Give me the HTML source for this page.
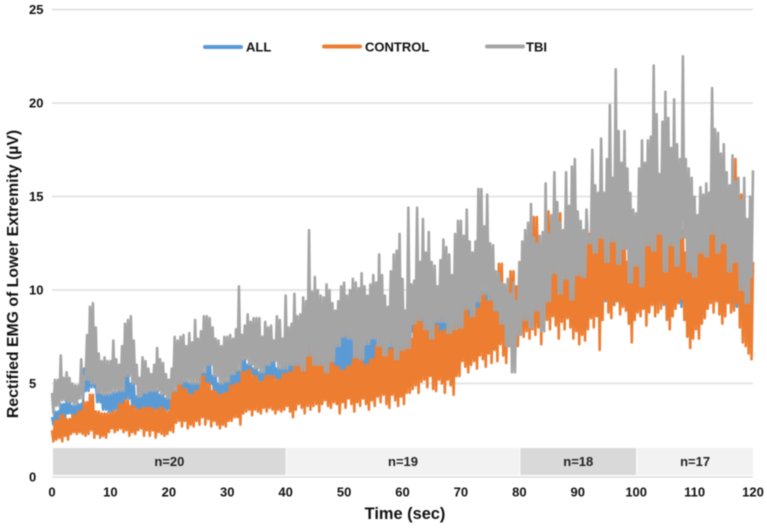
<!DOCTYPE html>
<html lang="en">
<head>
<meta charset="utf-8">
<title>Rectified EMG of Lower Extremity</title>
<style>
html,body{margin:0;padding:0;background:#fff;}
#chart{display:block;width:767px;height:528px;filter:blur(.4px);font-family:"Liberation Sans",sans-serif;font-weight:bold;}
</style>
</head>
<body>
<svg id="chart" xmlns="http://www.w3.org/2000/svg" width="767" height="528" viewBox="0 0 767 528">
  <g id="grid"></g>
  <g id="segments"></g>
  <g id="series"></g>
  <g id="yticks"></g>
  <g id="xticks"></g>
  <text x="405" y="519" text-anchor="middle" font-size="16.4" fill="#111">Time (sec)</text>
  <text transform="translate(18,274) rotate(-90)" text-anchor="middle" font-size="15.8" fill="#111">Rectified EMG of Lower Extremity (µV)</text>
  <g>
    <line x1="205" y1="47" x2="241" y2="47" stroke="#5b9bd5" stroke-width="4" stroke-linecap="round"/>
    <text x="246" y="51.5" font-size="13" fill="#111">ALL</text>
    <line x1="324" y1="46.5" x2="360" y2="46.5" stroke="#ed7d31" stroke-width="4" stroke-linecap="round"/>
    <text x="365" y="51.5" font-size="13" fill="#111">CONTROL</text>
    <line x1="487" y1="46.5" x2="523" y2="46.5" stroke="#a5a5a5" stroke-width="4" stroke-linecap="round"/>
    <text x="526" y="51.5" font-size="13" fill="#111">TBI</text>
  </g>
</svg>
<script>
var yTickLabels = [0, 5, 10, 15, 20, 25];
var xTickLabels = [0, 10, 20, 30, 40, 50, 60, 70, 80, 90, 100, 110, 120];
var segmentEdges = [0, 40, 80, 100, 120];
var segmentLabels = ['n=20', 'n=19', 'n=18', 'n=17'];

var tbiHigh = [
4.5,5.2,5.2,6.5,5.3,5.6,5.3,5.0,4.9,4.9,6.3,5.4,7.6,9.1,9.3,8.0,6.6,6.2,6.4,6.2,
6.2,7.3,6.3,6.0,7.0,8.2,8.4,8.6,7.3,6.0,5.3,6.4,6.2,5.8,5.5,6.0,6.9,6.3,6.1,5.5,
5.2,5.8,7.5,7.3,7.5,7.6,7.0,7.7,7.2,8.4,7.4,7.8,8.6,8.6,8.5,8.0,7.4,7.3,7.0,7.5,
7.5,7.6,7.4,7.9,10.2,7.6,8.1,8.7,8.3,8.5,8.5,8.5,7.5,8.3,8.0,8.1,7.3,8.6,8.4,7.4,
9.7,8.0,8.2,9.8,8.6,8.7,9.6,9.4,13.2,9.9,10.7,10.0,9.7,9.6,10.3,10.0,9.3,8.9,9.4,10.2,
10.4,9.7,10.0,10.6,10.4,10.1,10.9,10.2,9.7,10.3,10.8,10.4,11.9,10.8,9.7,9.1,11.0,11.9,12.1,13.0,
10.6,8.9,14.4,10.3,10.5,14.4,11.5,13.8,12.0,13.1,11.5,11.3,10.2,11.6,12.7,12.3,11.9,10.8,13.0,13.7,
13.7,12.9,14.3,12.6,12.0,12.6,15.4,15.4,13.4,15.1,12.5,12.4,11.0,10.9,10.4,10.3,10.6,9.8,10.4,9.4,
11.5,12.6,13.2,13.6,14.6,12.8,12.5,12.9,13.1,15.7,13.0,14.0,16.3,14.7,13.6,13.2,16.3,14.5,16.6,17.0,
14.2,13.7,13.2,14.3,12.8,17.5,15.6,15.2,18.1,15.2,17.0,19.9,16.0,21.8,18.5,16.8,18.5,16.5,15.2,14.3,
14.1,16.5,18.0,16.8,18.0,18.2,22.0,19.4,16.2,19.0,20.6,19.2,17.6,20.2,17.8,17.0,22.5,17.0,16.5,16.0,
15.0,14.0,15.5,15.1,15.7,15.2,20.8,18.6,18.4,17.3,17.8,16.3,15.6,17.2,15.8,16.0,14.8,16.0,13.8,15.0,16.4
];
var tbiLow = [
3.4,3.8,4.1,4.0,3.9,4.2,5.2,5.0,4.5,4.4,
4.5,4.6,4.6,5.4,5.0,4.3,4.5,4.6,4.6,4.4,
4.2,4.6,5.0,5.1,5.0,5.0,5.6,6.0,5.4,5.0,
5.1,5.5,5.7,6.3,6.0,5.8,5.6,6.0,6.2,5.8,
5.8,6.0,6.0,5.7,6.5,6.0,6.0,5.6,6.2,7.0,
7.5,7.4,6.4,6.3,7.1,7.4,7.0,6.5,7.0,6.3,
6.8,6.9,8.2,8.4,7.9,7.4,8.3,8.3,7.7,7.9,
8.0,9.0,8.6,9.4,9.8,9.5,8.9,8.2,7.0,5.6,
7.6,8.4,8.0,8.9,7.8,9.4,10.9,9.8,10.6,9.5,
10.8,10.7,12.5,12.0,12.8,11.5,12.6,11.4,12.2,10.4,
11.3,10.2,12.4,12.1,13.0,11.0,12.4,11.3,12.8,11.0,
10.7,12.0,11.8,13.0,12.0,12.5,11.0,11.5,10.0,9.3,10.7
];
var controlHigh = [
2.5,3.0,3.3,3.1,3.3,3.5,4.0,4.4,3.5,3.4,
3.4,3.5,3.9,4.1,3.8,3.6,3.7,3.7,3.6,3.7,
3.5,4.6,5.1,4.7,4.4,4.6,5.4,5.0,4.6,4.4,
4.5,4.9,5.0,5.6,5.7,5.4,5.1,5.4,5.4,5.2,
5.5,5.6,5.9,6.3,7.0,6.5,6.2,6.0,6.4,5.9,
5.7,5.9,6.3,6.4,6.0,6.3,7.0,7.3,6.8,7.5,
6.9,7.4,8.4,9.1,8.2,7.9,8.1,7.8,7.9,8.2,
8.6,9.3,8.6,9.0,9.8,9.4,9.8,11.4,9.6,11.0,
10.2,11.0,12.5,13.9,12.0,14.2,12.5,14.1,12.4,12.0,
11.8,12.0,13.0,13.0,13.2,13.2,13.0,12.8,13.0,11.5,
12.0,12.6,13.0,13.5,16.0,13.0,13.0,13.6,13.2,12.0,
11.8,12.4,12.4,13.6,13.2,13.0,13.0,17.0,15.1,12.5,11.5
];
var controlLow = [
1.8,1.9,2.0,2.1,1.9,2.2,2.0,2.3,2.4,2.3,2.4,2.3,2.2,2.3,2.5,2.1,2.3,2.1,2.2,2.1,
2.4,2.6,2.4,2.5,2.6,2.4,2.5,2.2,2.4,2.3,2.5,2.6,2.2,2.5,2.2,2.5,2.1,2.4,2.3,2.2,
2.3,2.5,2.4,2.9,3.0,2.7,3.0,2.6,2.8,2.7,3.0,2.8,3.2,2.8,3.1,2.7,3.0,2.8,2.6,2.8,
2.7,3.0,2.8,3.2,3.2,2.8,3.4,3.5,3.6,3.3,3.6,3.5,3.4,3.7,3.5,3.7,3.6,3.4,3.6,3.5,
3.6,3.8,3.5,3.2,3.6,3.9,3.7,3.4,3.8,3.6,3.8,3.9,3.5,3.9,4.1,3.8,3.7,4.0,3.9,3.4,
4.0,3.7,4.2,3.9,3.5,4.0,3.8,4.2,3.9,3.6,4.1,3.8,4.3,4.0,4.4,3.9,3.7,4.4,4.1,3.8,
4.3,3.9,4.5,4.7,4.3,4.9,4.5,5.1,5.2,4.8,5.4,4.7,4.6,5.2,5.0,4.5,5.2,4.9,4.4,5.4,
5.4,6.2,5.9,5.6,6.0,6.2,5.8,6.5,6.3,5.9,6.6,6.1,6.8,6.2,7.1,6.5,6.1,7.0,6.9,7.3,
7.0,7.6,7.5,7.8,7.4,7.9,7.6,8.0,7.1,7.8,8.4,7.9,8.6,8.1,7.4,8.3,7.9,8.5,8.0,7.4,
7.8,7.1,7.6,7.3,7.9,8.5,8.0,8.6,6.8,8.4,9.5,8.8,8.5,9.2,9.4,8.7,9.1,8.9,8.2,7.2,
8.4,8.8,8.6,9.0,8.1,8.8,9.2,8.6,8.8,9.0,9.3,8.4,7.9,8.6,9.0,9.3,9.5,8.4,7.5,6.9,
7.4,7.9,7.4,8.2,8.5,9.0,9.3,8.8,9.4,8.7,8.2,8.6,9.3,8.8,8.9,9.3,8.0,7.2,7.0,6.6,6.3
];
var allHigh = [
3.2,3.5,3.9,4.1,3.8,3.9,5.8,6.2,5.0,4.4,
4.4,4.5,4.6,5.5,5.0,4.3,4.5,4.6,4.6,4.4,
4.2,4.6,5.0,5.1,5.0,5.0,5.6,6.2,5.4,5.0,
5.1,5.5,5.7,6.3,6.0,5.8,5.6,6.0,6.2,5.8,
6.3,6.6,6.4,6.9,7.9,7.3,7.1,6.9,7.3,7.6,
7.9,7.6,7.4,7.3,7.4,7.9,8.0,7.6,8.0,7.7,
8.0,8.3,8.9,8.9,8.6,8.5,8.7,8.7,8.4,8.8,
9.4,9.4,9.7,9.8,9.9,9.9,9.3,8.6,7.8,7.0,
8.0,8.4,8.4,8.3,8.2,9.8,10.8,10.2,10.0,9.9,
10.2,11.1,11.9,12.4,11.7,11.9,11.7,11.8,11.6,10.8,
10.7,10.6,11.6,12.5,11.8,11.4,11.6,11.7,11.6,11.4,
11.1,11.4,12.2,12.2,12.2,11.9,11.4,10.9,10.4,9.7,11.1
];
var allLow = [
2.8,3.0,3.2,3.4,3.3,3.4,4.6,4.8,4.0,3.6,
3.5,3.6,3.8,4.2,3.7,3.6,3.6,3.6,3.6,3.6,
3.6,4.4,4.6,4.3,4.3,4.5,5.0,5.0,4.4,4.3,
4.4,4.7,4.9,5.3,5.5,5.2,5.0,5.2,5.3,5.1,
5.4,5.5,5.7,5.8,6.0,5.6,5.6,5.6,5.7,5.5,
5.5,5.6,5.8,5.9,5.7,5.8,6.2,6.6,6.4,6.6,
6.5,6.8,7.8,8.0,7.0,7.0,7.1,7.0,7.3,7.7,
8.0,8.2,8.3,8.5,8.8,8.6,8.5,8.5,8.4,8.2,
8.2,8.5,8.6,8.7,8.5,9.0,9.0,9.0,9.0,9.0,
9.0,9.0,9.3,9.4,9.3,9.4,9.2,9.4,9.3,8.9,
9.1,9.0,9.2,9.6,9.4,9.2,9.4,9.3,9.1,8.5,
8.4,8.5,9.0,9.5,9.6,9.4,9.4,9.1,9.2,8.5,9.5
];

var NS = 'http://www.w3.org/2000/svg';
function xScale(t) { return 52 + t * (753 - 52) / 120; }
function yScale(v) { return 477 - v * (477 - 9.5) / 25; }
function sample(arr, t) { return arr[Math.round(t / 120 * (arr.length - 1))]; }

function make(tag, attrs) {
  var el = document.createElementNS(NS, tag);
  for (var k in attrs) el.setAttribute(k, attrs[k]);
  return el;
}

var grid = document.getElementById('grid');
var yticks = document.getElementById('yticks');
yTickLabels.forEach(function (v) {
  var line = make('line', {x1: 52, x2: 753, y1: yScale(v), y2: yScale(v), stroke: '#dedede', 'stroke-width': 1.4});
  
  
  grid.appendChild(line);
  var label = make('text', {x: 29, y: yScale(v) + 4.5, 'font-size': 13, fill: '#111'});
  
  
  label.textContent = v;
  yticks.appendChild(label);
});

var xticks = document.getElementById('xticks');
xTickLabels.forEach(function (t) {
  var label = make('text', {x: xScale(t), y: 496.5, 'text-anchor': 'middle', 'font-size': 13, fill: '#111'});
  
  
  label.textContent = t;
  xticks.appendChild(label);
});

var segments = document.getElementById('segments');
segmentLabels.forEach(function (name, i) {
  var x0 = xScale(segmentEdges[i]) + 1;
  var x1 = xScale(segmentEdges[i + 1]);
  var rect = make('rect', {x: x0, y: 448, width: x1 - x0, height: 27, fill: i % 2 ? '#f2f2f2' : '#d9d9d9'});
  
  
  segments.appendChild(rect);
  var label = make('text', {x: (x0 + x1) / 2, y: 466, 'text-anchor': 'middle', 'font-size': 13, fill: '#222'});
  
  
  label.textContent = name;
  segments.appendChild(label);
});

function seriesPath(high, low) {
  var d = '';
  for (var k = 0; k <= 480; k++) {
    var t = k * 0.25;
    var v = k % 2 === 0 ? sample(high, t) : sample(low, t);
    d += (k ? 'L' : 'M') + xScale(t).toFixed(2) + ' ' + yScale(v).toFixed(2);
  }
  return d;
}

var seriesGroup = document.getElementById('series');
var lineAll = make('path', {d: seriesPath(allHigh, allLow), fill: 'none', stroke: '#5b9bd5', 'stroke-width': 2.6, 'stroke-linejoin': 'round'});


seriesGroup.appendChild(lineAll);
var lineControl = make('path', {d: seriesPath(controlHigh, controlLow), fill: 'none', stroke: '#ed7d31', 'stroke-width': 2.6, 'stroke-linejoin': 'round'});


seriesGroup.appendChild(lineControl);
var lineTbi = make('path', {d: seriesPath(tbiHigh, tbiLow), fill: 'none', stroke: '#a5a5a5', 'stroke-width': 2.6, 'stroke-linejoin': 'round'});


seriesGroup.appendChild(lineTbi);
</script>
</body>
</html>
